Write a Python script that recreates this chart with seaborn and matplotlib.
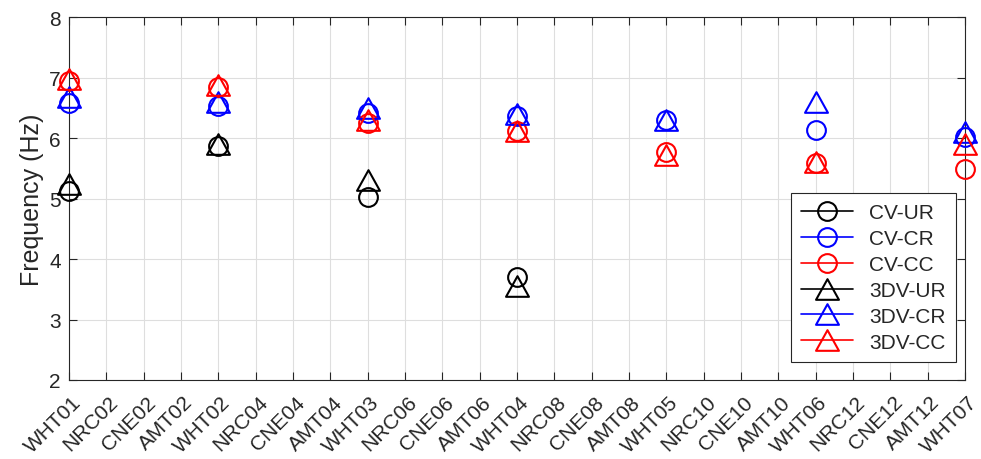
import numpy as np
import pandas as pd
import matplotlib
matplotlib.use("Agg")
import matplotlib.pyplot as plt
from matplotlib.path import Path
from matplotlib.lines import Line2D
from matplotlib.transforms import ScaledTranslation
import seaborn as sns

categories = ["WHT01", "NRC02", "CNE02", "AMT02", "WHT02", "NRC04", "CNE04", "AMT04",
              "WHT03", "NRC06", "CNE06", "AMT06", "WHT04", "NRC08", "CNE08", "AMT08",
              "WHT05", "NRC10", "CNE10", "AMT10", "WHT06", "NRC12", "CNE12", "AMT12", "WHT07"]
sites = ["WHT01", "WHT02", "WHT03", "WHT04", "WHT05", "WHT06", "WHT07"]

cv_ur = [5.12, 5.87, 5.03, 3.71, np.nan, np.nan, np.nan]
cv_cr = [6.58, 6.53, 6.42, 6.36, 6.30, 6.14, 6.02]
cv_cc = [6.94, 6.85, 6.25, 6.12, 5.77, 5.58, 5.49]
dv_ur = [5.24, 5.90, 5.30, 3.55, np.nan, np.nan, np.nan]
dv_cr = [6.68, 6.60, 6.50, 6.40, 6.29, 6.59, 6.10]
dv_cc = [6.97, 6.87, 6.29, 6.11, 5.72, 5.60, 5.90]

series_names = ["CV-UR", "CV-CR", "CV-CC", "3DV-UR", "3DV-CR", "3DV-CC"]
series_values = [cv_ur, cv_cr, cv_cc, dv_ur, dv_cr, dv_cc]
series_colors = ["black", "blue", "red", "black", "blue", "red"]
series_kind = ["circle", "circle", "circle", "tri", "tri", "tri"]

sns.set_theme(style="white")
plt.rcParams["font.family"] = ["Liberation Sans", "DejaVu Sans"]

tri = Path([(0, 0.9), (-1, -0.9), (1, -0.9), (0, 0.9)],
           [Path.MOVETO, Path.LINETO, Path.LINETO, Path.CLOSEPOLY])

fig = plt.figure(figsize=(9.81, 4.6), dpi=100)
ax = fig.add_axes([69/981, 1-381/460, (965-69)/981, (381-18)/460])

xpos = [categories.index(s) for s in sites]
handles = []
for name, vals, col, kind in zip(series_names, series_values, series_colors, series_kind):
    df = pd.DataFrame({"x": xpos, "y": vals}).dropna()
    mk = "o" if kind == "circle" else tri
    ms = 13.5 if kind == "circle" else 16.5
    sns.lineplot(data=df, x="x", y="y", ax=ax, marker=mk, markersize=ms,
                 markerfacecolor="none", markeredgecolor=col, markeredgewidth=1.5,
                 color=col, linestyle="", clip_on=False, zorder=3)
    handles.append(Line2D([], [], color=col, lw=1.2, marker=mk, markersize=ms,
                          markerfacecolor="none", markeredgecolor=col, markeredgewidth=1.5))

ax.set_xlim(0, len(categories) - 1)
ax.set_ylim(2, 8)
ax.set_xticks(range(len(categories)))
ax.set_yticks(range(2, 9))
ax.set_xlabel("")
ax.set_ylabel("Frequency (Hz)", fontsize=18, color="#262626", labelpad=3.5)

ax.grid(True, color="#dedede", linewidth=0.8)
ax.set_axisbelow(True)
for sp in ax.spines.values():
    sp.set_visible(True)
    sp.set_color("#262626")
    sp.set_linewidth(0.8)
ax.tick_params(axis="both", direction="in", length=6, width=0.8, color="#262626",
               top=True, right=True, bottom=True, left=True)
ax.tick_params(axis="y", pad=6)
ax.tick_params(axis="x", pad=10)

ax.set_xticklabels(categories, rotation=45, ha="right", va="center",
                   rotation_mode="anchor", fontsize=15, color="#262626")
ax.set_yticklabels([str(v) for v in range(2, 9)], fontsize=15, color="#262626")
shift = ScaledTranslation(9/100, -5/100, fig.dpi_scale_trans)
for lab in ax.get_xticklabels():
    lab.set_transform(lab.get_transform() + shift)

leg = ax.legend(handles, series_names, loc="lower right", bbox_to_anchor=(0.990, 0.0496),
                fontsize=15, frameon=True, fancybox=False, framealpha=1,
                edgecolor="#262626", handlelength=2.5, labelspacing=0.33,
                borderpad=0.5, handletextpad=0.75, borderaxespad=0)
leg.get_frame().set_linewidth(0.8)
for t in leg.get_texts():
    t.set_color("#262626")

fig.savefig("out.png", dpi=100)
